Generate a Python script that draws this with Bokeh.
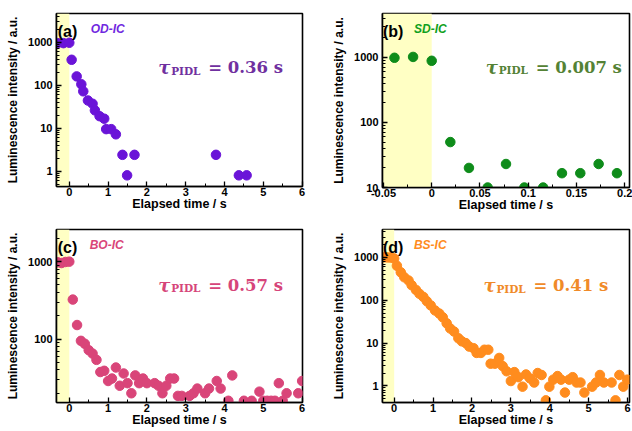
from bokeh.plotting import figure
from bokeh.layouts import gridplot
from bokeh.models import BoxAnnotation, Label, FixedTicker, CustomJSTickFormatter, Range1d
from bokeh.embed import file_html
from bokeh.resources import INLINE

# ---------------- data ----------------
a_x = [-0.3, -0.15, 0.0, 0.06, 0.19, 0.31, 0.36, 0.48, 0.6, 0.66, 0.78, 0.9, 0.95, 1.08, 1.2, 1.37, 1.49, 1.68, 3.78, 4.37, 4.57]
a_y = [950, 950, 970, 390, 160, 105, 72, 44, 37, 26, 19, 16.6, 9.5, 9.5, 7.2, 2.4, 0.8, 2.4, 2.4, 0.8, 0.8]

b_x = [-0.0386, -0.0193, 0.0, 0.0193, 0.0386, 0.058, 0.077, 0.096, 0.1155, 0.135, 0.154, 0.173, 0.192]
b_y = [990, 1020, 890, 50, 20, 10, 23, 10, 10, 16.6, 16.6, 23, 16.6]

c_x = [-0.3, -0.2, -0.1, 0.0, 0.09, 0.2, 0.3, 0.4, 0.5, 0.6, 0.7, 0.8, 0.9, 1.0, 1.1, 1.2, 1.3, 1.4, 1.5, 1.6,
       1.7, 1.8, 1.9, 2.0, 2.2, 2.3, 2.4, 2.5, 2.6, 2.7, 2.8, 2.9, 3.1, 3.2, 3.3, 3.5, 3.6, 3.8, 3.9, 4.1,
       4.2, 4.5, 4.7, 4.9, 5.0, 5.1, 5.2, 5.3, 5.4, 5.5, 5.6, 5.9, 6.0]
c_y = [980, 960, 990, 1000, 324, 152, 95, 87, 72, 65, 54, 37.6, 39, 28.8, 31, 43, 25, 36, 27, 20,
       34, 27, 31, 27, 27, 25, 20, 25, 31, 31, 18.5, 18.5, 18.5, 20, 23, 20, 23, 28.8, 23, 16,
       34, 16, 16, 21, 16, 16, 16, 16, 27, 16, 20, 20, 28.8]

d_x = [-0.3, -0.22, -0.15, -0.07, 0.0, 0.07, 0.17, 0.26, 0.37, 0.45, 0.56, 0.65, 0.75, 0.84, 0.94, 1.05, 1.16, 1.25,
       1.35, 1.44, 1.54, 1.65, 1.74, 1.84, 1.93, 2.04, 2.12, 2.23, 2.32, 2.42, 2.48, 2.59, 2.7, 2.79, 2.89,
       3.0, 3.09, 3.19, 3.3, 3.39, 3.49, 3.6, 3.69, 3.79, 3.9, 3.99, 4.09, 4.2, 4.29, 4.39, 4.5, 4.59, 4.69,
       4.79, 4.89, 5.09, 5.19, 5.29, 5.39, 5.59, 5.69, 5.79, 5.89, 5.99]
d_y = [1000, 1010, 1000, 990, 950, 640, 450, 345, 290, 225, 175, 142, 120, 95, 76, 58, 49, 40,
       29, 22, 18.6, 13, 11, 10, 8.3, 7.6, 5.9, 5.9, 7.0, 7.0, 3.3, 3.3, 4.5, 2.9, 2.2,
       1.3, 2.1, 1.6, 0.96, 1.85, 1.5, 1.2, 2.0, 1.8, 0.46, 0.96, 1.4, 1.7, 1.4, 0.7, 1.4, 1.6, 1.2,
       1.2, 0.7, 0.96, 1.2, 1.8, 1.2, 1.2, 0.46, 1.8, 0.96, 1.4]

panel_tags = ["(a)", "(b)", "(c)", "(d)"]
sample_names = ["OD-IC", "SD-IC", "BO-IC", "BS-IC"]
tau_values = ["0.36", "0.007", "0.57", "0.41"]
marker_colors = ["#6A14D8", "#0E8C1A", "#D94579", "#FF8C1E"]
name_colors = ["#7028E0", "#10A020", "#D94579", "#FF8C1E"]
tau_colors = ["#7030A0", "#548235", "#D6457A", "#F08A28"]

x_ticks_long = [0, 1, 2, 3, 4, 5, 6]
x_minor_long = [-0.5, 0.5, 1.5, 2.5, 3.5, 4.5, 5.5]
x_ticks_b = [-0.05, 0, 0.05, 0.1, 0.15, 0.2]
x_minor_b = [-0.025, 0.025, 0.075, 0.125, 0.175]

AX_FONT = "Liberation Sans"
SERIF = "DejaVu Serif"


def log_minor(lo_dec, hi_dec):
    out = []
    for d in range(lo_dec, hi_dec + 1):
        for m in range(2, 10):
            out.append(m * 10 ** d)
    return out


def make_panel(idx, xs, ys, xr, yr, xticks, xminor, yticks, frame_w, frame_h,
               bl, br, bt, bb, tag_pos, name_off, tau_pos, tau_off):
    p = figure(x_axis_type="linear", y_axis_type="log",
               x_range=Range1d(*xr), y_range=Range1d(*yr),
               frame_width=frame_w, frame_height=frame_h,
               min_border_left=bl, min_border_right=br, min_border_top=bt, min_border_bottom=bb,
               output_backend="svg", toolbar_location=None)
    p.grid.visible = False
    p.background_fill_color = "white"
    p.border_fill_color = "white"
    p.outline_line_color = "black"
    p.outline_line_width = 1.6

    p.add_layout(BoxAnnotation(right=0, fill_color="#FFFFC4", fill_alpha=1.0,
                               line_alpha=0, level="underlay"))

    p.scatter(xs, ys, size=9.5, color=marker_colors[idx], line_color=marker_colors[idx])

    p.xaxis.ticker = FixedTicker(ticks=xticks, minor_ticks=xminor)
    p.yaxis.ticker = FixedTicker(ticks=yticks, minor_ticks=log_minor(-1, 3))
    fmt = CustomJSTickFormatter(code="return String(parseFloat(tick.toPrecision(6)));")
    p.xaxis.formatter = fmt
    p.yaxis.formatter = CustomJSTickFormatter(code="return String(Math.round(tick));")

    for ax in (p.xaxis[0], p.yaxis[0]):
        ax.axis_line_width = 1.6
        ax.axis_line_color = "black"
        ax.major_tick_in = 5
        ax.major_tick_out = 0
        ax.minor_tick_in = 3
        ax.minor_tick_out = 0
        ax.major_tick_line_width = 1.3
        ax.minor_tick_line_width = 1.0
        ax.major_label_text_font = AX_FONT
        ax.major_label_text_font_style = "bold"
        ax.major_label_text_font_size = "11px"
        ax.major_label_text_color = "black"
        ax.axis_label_text_font = AX_FONT
        ax.axis_label_text_font_style = "bold"
        ax.axis_label_text_color = "black"
    p.xaxis.major_label_standoff = 1
    p.yaxis.major_label_standoff = 4
    p.xaxis.axis_label = "Elapsed time / s"
    p.yaxis.axis_label = "Luminescence intensity / a.u."
    p.xaxis.axis_label_text_font_size = "12.5px"
    p.yaxis.axis_label_text_font_size = "12px"
    p.xaxis.axis_label_standoff = -2
    p.yaxis.axis_label_standoff = 5

    # panel tag and sample name
    p.add_layout(Label(x=tag_pos[0], y=tag_pos[1], text=panel_tags[idx], text_font=AX_FONT,
                       text_font_style="bold", text_font_size="16px", text_color="black",
                       text_baseline="alphabetic"))
    p.add_layout(Label(x=tag_pos[0], y=tag_pos[1], x_offset=name_off, y_offset=2,
                       text=sample_names[idx], text_font=AX_FONT,
                       text_font_style="bold italic", text_font_size="12px",
                       text_color=name_colors[idx], text_baseline="alphabetic"))

    # tau annotation
    tc = tau_colors[idx]
    p.add_layout(Label(x=tau_pos[0], y=tau_pos[1], text="τ", text_font=SERIF,
                       text_font_style="bold italic", text_font_size="18px", text_color=tc,
                       text_baseline="alphabetic"))
    p.add_layout(Label(x=tau_pos[0], y=tau_pos[1], x_offset=13, y_offset=-3, text="PIDL",
                       text_font=SERIF, text_font_style="bold", text_font_size="10.5px",
                       text_color=tc, text_baseline="alphabetic"))
    p.add_layout(Label(x=tau_pos[0], y=tau_pos[1], x_offset=tau_off,
                       text="= " + tau_values[idx] + " s",
                       text_font=SERIF, text_font_style="bold", text_font_size="16.5px",
                       text_color=tc, text_baseline="alphabetic"))
    return p


pa = make_panel(0, a_x, a_y, (-0.33, 6.01), (0.44, 4650), x_ticks_long, x_minor_long, [1, 10, 100, 1000],
                246, 173, 56, 14, 13, 26, (-0.3, 1775), 33, (2.29, 257), 50)
pb = make_panel(1, b_x, b_y, (-0.051, 0.205), (10, 4750), x_ticks_b, x_minor_b, [10, 100, 1000],
                247, 174, 66, 3, 13, 25, (-0.0505, 2540), 31, (0.0559, 710), 50)
pc = make_panel(2, c_x, c_y, (-0.33, 6.01), (15.2, 2600), x_ticks_long, x_minor_long, [100, 1000],
                246, 173, 56, 14, 15, 26, (-0.3, 1540), 32, (2.29, 493), 50)
pd = make_panel(3, d_x, d_y, (-0.3, 6.05), (0.41, 4500), x_ticks_long, x_minor_long, [1, 10, 100, 1000],
                247, 173, 66, 3, 15, 26, (-0.29, 1730), 31, (2.295, 221), 50)

grid = gridplot([[pa, pb], [pc, pd]], toolbar_location=None)

open("out.html", "w").write(file_html(grid, INLINE))
